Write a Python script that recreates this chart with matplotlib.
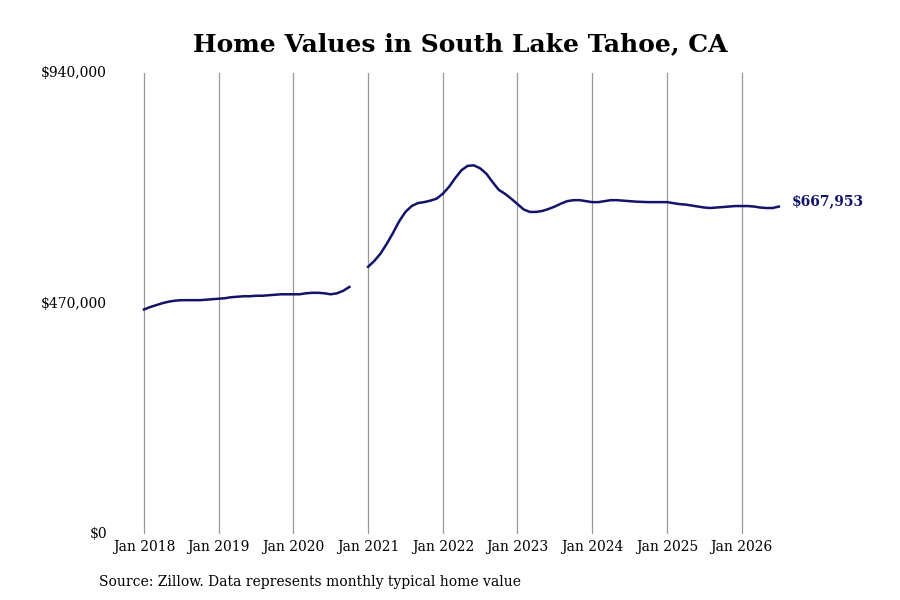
import numpy as np
import matplotlib
matplotlib.use("Agg")
import matplotlib.pyplot as plt
from matplotlib.ticker import FuncFormatter

# Monthly typical home value, Jan 2018 .. Jul 2026 (thousands of $), gap Nov-Dec 2020
v2018 = [458, 463, 467, 471, 474, 476, 477, 477, 477, 477, 478, 479]
v2019 = [480, 481, 483, 484, 485, 485, 486, 486, 487, 488, 489, 489]
v2020 = [489, 489, 491, 492, 492, 491, 489, 491, 496, 504, np.nan, np.nan]
v2021 = [545, 557, 572, 592, 614, 638, 657, 669, 675, 677, 680, 684]
v2022 = [694, 708, 726, 742, 751, 752, 746, 735, 718, 702, 694, 684]
v2023 = [673, 662, 657, 657, 659, 663, 668, 674, 679, 681, 681, 679]
v2024 = [677, 677, 679, 681, 681, 680, 679, 678, 677.5, 677, 677, 677]
v2025 = [677, 675, 673, 672, 670, 668, 666, 665, 666, 667, 668, 669]
v2026 = [669, 669, 668, 666, 665, 665, 667.953]

tick_labels = ["Jan 2018", "Jan 2019", "Jan 2020", "Jan 2021", "Jan 2022",
               "Jan 2023", "Jan 2024", "Jan 2025", "Jan 2026"]
y_ticks = [0, 470000, 940000]
last_label = "$667,953"

values = np.array(v2018 + v2019 + v2020 + v2021 + v2022 + v2023
                  + v2024 + v2025 + v2026) * 1000
months = np.arange(len(values))

plt.rcParams['font.family'] = ['DejaVu Serif']
fig = plt.figure(figsize=(9, 6), dpi=100)
ax = fig.add_axes([0.125, 0.11, 0.775, 0.768])

line_color = "#13136b"
ax.plot(months, values, color=line_color, linewidth=1.8)

ax.set_xlim(-5.06, 107)
ax.set_ylim(0, 940000)
ax.set_xticks(np.arange(0, 12 * len(tick_labels), 12))
ax.set_xticklabels(tick_labels, fontsize=10)
ax.set_yticks(y_ticks)
ax.yaxis.set_major_formatter(FuncFormatter(lambda v, p: f"${v:,.0f}"))
ax.tick_params(axis='both', length=0, labelsize=10)
ax.tick_params(axis='x', pad=4)
ax.tick_params(axis='y', pad=4)
for lbl in ax.get_yticklabels():
    lbl.set_verticalalignment('center')

ax.grid(axis='x', color='#999999', linewidth=0.9)
ax.grid(axis='y', visible=False)
for s in ax.spines.values():
    s.set_visible(False)

ax.annotate(last_label, xy=(months[-1], values[-1]), xytext=(9, 4),
            textcoords='offset points', color=line_color, fontsize=10,
            fontweight='bold', va='center', ha='left')

fig.text(0.512, 0.927, "Home Values in South Lake Tahoe, CA", ha='center',
         va='center', fontsize=18, fontweight='bold')
fig.text(0.11, 0.03, "Source: Zillow. Data represents monthly typical home value",
         ha='left', va='center', fontsize=10)

fig.savefig("out.png", dpi=100)
